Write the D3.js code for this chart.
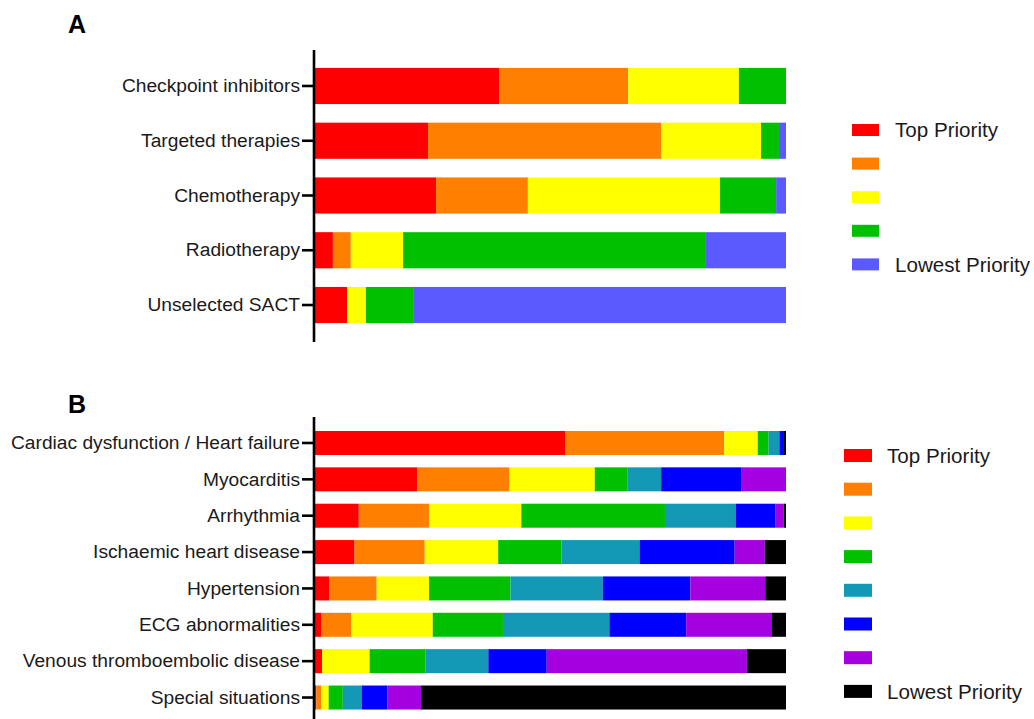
<!DOCTYPE html>
<html>
<head>
<meta charset="utf-8">
<script src="https://cdn.jsdelivr.net/npm/d3@7"></script>
<style>
  html, body { margin: 0; padding: 0; background: #fff; }
  svg { display: block; font-family: "Liberation Sans", Arial, sans-serif; }
</style>
</head>
<body>
<svg id="chart" width="1034" height="719"></svg>
<script>
// ---------- Panel A data (percent of respondents per priority level) ----------
const catA = ["Checkpoint inhibitors", "Targeted therapies", "Chemotherapy", "Radiotherapy", "Unselected SACT"];
const aLevel1 = [39.1, 24.0, 25.7, 3.8, 6.8];   // Top Priority
const aLevel2 = [27.4, 49.5, 19.5, 3.8, 0.0];
const aLevel3 = [23.5, 21.2, 40.8, 11.1, 4.0];
const aLevel4 = [10.0, 3.8, 11.9, 64.3, 10.2];
const aLevel5 = [0.0, 1.5, 2.1, 17.0, 79.0];    // Lowest Priority
const colorsA = ["#ff0000", "#ff8000", "#ffff00", "#00c000", "#5a5aff"];
const legendA = ["Top Priority", "", "", "", "Lowest Priority"];

// ---------- Panel B data ----------
const catB = ["Cardiac dysfunction / Heart failure", "Myocarditis", "Arrhythmia", "Ischaemic heart disease",
              "Hypertension", "ECG abnormalities", "Venous thromboembolic disease", "Special situations"];
const bLevel1 = [53.1, 21.7, 9.3, 8.4, 3.0, 1.4, 1.5, 0.3];   // Top Priority
const bLevel2 = [33.8, 19.6, 14.9, 14.9, 10.1, 6.3, 0.0, 1.0];
const bLevel3 = [7.1, 18.1, 19.6, 15.6, 11.1, 17.3, 10.1, 1.6];
const bLevel4 = [2.3, 7.0, 30.5, 13.4, 17.3, 14.9, 11.9, 3.0];
const bLevel5 = [2.3, 7.1, 15.0, 16.6, 19.6, 22.6, 13.3, 4.0];
const bLevel6 = [0.8, 17.1, 8.5, 20.2, 18.6, 16.3, 12.4, 5.5];
const bLevel7 = [0.0, 9.4, 1.7, 6.4, 15.9, 18.1, 42.5, 7.1];
const bLevel8 = [0.6, 0.0, 0.5, 4.5, 4.4, 3.1, 8.3, 77.5];    // Lowest Priority
const colorsB = ["#ff0000", "#ff8000", "#ffff00", "#00c000", "#1399b5", "#0000ff", "#a500e0", "#000000"];
const legendB = ["Top Priority", "", "", "", "", "", "", "Lowest Priority"];

const svg = d3.select("#chart");

function drawPanel(cfg) {
  const levels = cfg.levels;
  const rows = cfg.cats.map((c, i) => {
    const r = { cat: c };
    levels.forEach((arr, k) => { r["L" + k] = arr[i]; });
    return r;
  });
  const keys = levels.map((_, k) => "L" + k);
  const stack = d3.stack().keys(keys)(rows);

  const x = d3.scaleLinear().domain([0, 100]).range([cfg.x0, cfg.x1]);
  const y = d3.scaleBand().domain(cfg.cats).range([cfg.y0, cfg.y1])
    .paddingInner(0.34).paddingOuter(0.17);
  const color = d3.scaleOrdinal().domain(keys).range(cfg.colors);

  const g = svg.append("g");

  g.selectAll("g.series").data(stack).join("g")
    .attr("class", "series")
    .attr("fill", d => color(d.key))
    .selectAll("rect").data(d => d.filter(s => s[1] - s[0] > 0)).join("rect")
    .attr("x", d => x(d[0]))
    .attr("width", d => x(d[1]) - x(d[0]))
    .attr("y", d => y(d.data.cat))
    .attr("height", y.bandwidth());

  // y axis
  const axis = d3.axisLeft(y).tickSize(12).tickPadding(2);
  const ag = g.append("g").attr("transform", `translate(${cfg.x0 - 1},0)`).call(axis);
  ag.select(".domain").remove();
  ag.selectAll(".tick line").attr("stroke", "#000").attr("stroke-width", 2.6);
  ag.selectAll(".tick text").attr("fill", "#1a1a1a").attr("font-size", 19.2)
    .attr("font-family", '"Liberation Sans", Arial, sans-serif');
  g.append("line")
    .attr("x1", cfg.x0 - 1).attr("x2", cfg.x0 - 1)
    .attr("y1", cfg.axisTop).attr("y2", cfg.axisBottom)
    .attr("stroke", "#000").attr("stroke-width", 2.6);

  // panel letter
  g.append("text").attr("x", 68).attr("y", cfg.letterY)
    .attr("font-size", 25).attr("font-weight", "bold").attr("fill", "#000")
    .text(cfg.letter);

  // legend
  const lg = g.append("g");
  cfg.legend.forEach((t, k) => {
    const cy = cfg.legY0 + k * cfg.legStep;
    lg.append("rect").attr("x", cfg.legX).attr("y", cy - cfg.swH / 2)
      .attr("width", cfg.swW).attr("height", cfg.swH).attr("fill", cfg.colors[k]);
    if (t) {
      lg.append("text").attr("x", cfg.legTextX).attr("y", cy).attr("dy", "0.35em")
        .attr("font-size", 20.6).attr("fill", "#1a1a1a").text(t);
    }
  });
}

drawPanel({
  cats: catA, levels: [aLevel1, aLevel2, aLevel3, aLevel4, aLevel5], colors: colorsA, legend: legendA,
  x0: 315, x1: 786, y0: 58.6, y1: 332.4, axisTop: 50, axisBottom: 342,
  letter: "A", letterY: 33,
  legX: 852, legTextX: 895, legY0: 130, legStep: 33.6, swW: 27, swH: 12
});

drawPanel({
  cats: catB, levels: [bLevel1, bLevel2, bLevel3, bLevel4, bLevel5, bLevel6, bLevel7, bLevel8],
  colors: colorsB, legend: legendB,
  x0: 315, x1: 786, y0: 424.8, y1: 715.7, axisTop: 417, axisBottom: 725,
  letter: "B", letterY: 413,
  legX: 844, legTextX: 887, legY0: 455.5, legStep: 33.7, swW: 28, swH: 13
});
</script>
</body>
</html>
